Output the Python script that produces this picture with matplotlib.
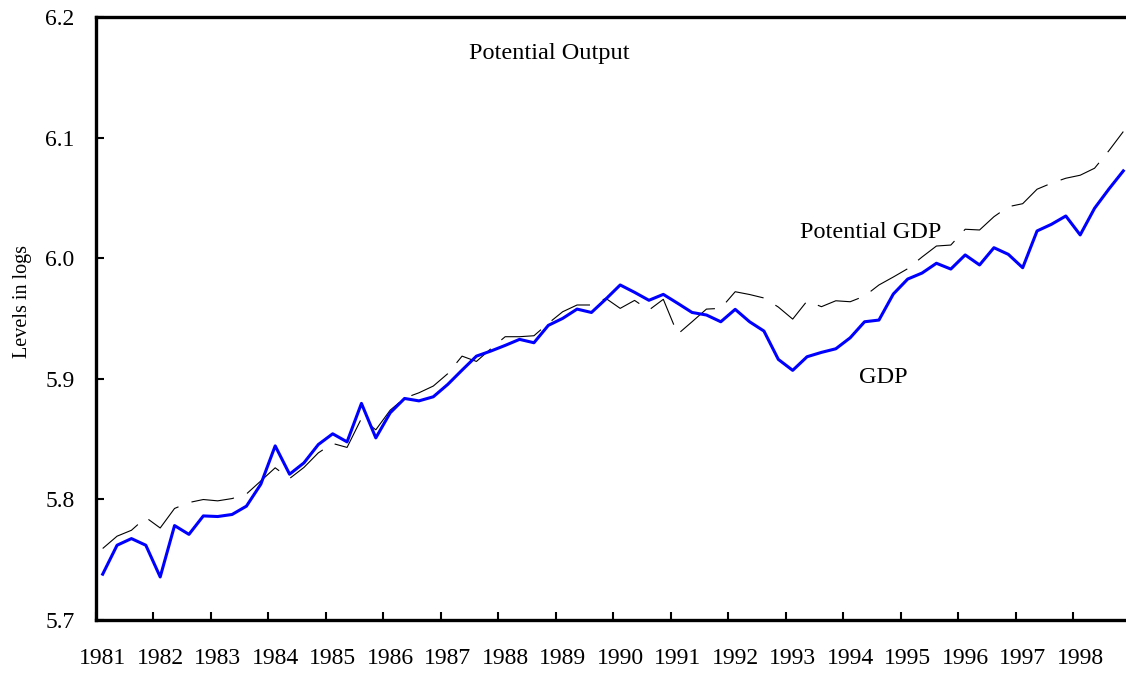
import numpy as np
import matplotlib
matplotlib.use('Agg')
import matplotlib.pyplot as plt

plt.rcParams['font.family'] = ['Liberation Serif', 'DejaVu Serif']
plt.rcParams['lines.scale_dashes'] = False

# quarterly data, 1981Q1 .. 1998Q4
years = list(range(1981, 1999))

gdp = [5.738, 5.762, 5.7675, 5.762, 5.7357, 5.7783, 5.771, 5.7863,
       5.7858, 5.7875, 5.7944, 5.8126, 5.8444, 5.8209, 5.8303, 5.8455,
       5.8544, 5.8477, 5.8796, 5.851, 5.8718, 5.8837, 5.8817, 5.8851,
       5.8953, 5.9072, 5.9188, 5.923, 5.9277, 5.9327, 5.9299, 5.9443,
       5.9501, 5.9578, 5.955, 5.9661, 5.9778, 5.9717, 5.9651, 5.970,
       5.9626, 5.955, 5.9529, 5.9473, 5.9576, 5.9473, 5.9396, 5.9161,
       5.907, 5.9183, 5.9219, 5.9249, 5.934, 5.9473, 5.9487, 5.9703,
       5.9827, 5.9877, 5.9958, 5.991, 6.0027, 5.9944, 6.0087, 6.0032,
       5.9921, 6.0226, 6.0281, 6.035, 6.0193, 6.0414, 6.0574, 6.0724]

potential = [5.7593, 5.7695, 5.7744, 5.785, 5.7763, 5.7925, 5.7974, 5.7999,
             5.7988, 5.8007, 5.8045, 5.8153, 5.8262, 5.8173, 5.8265, 5.8386,
             5.8464, 5.8431, 5.8671, 5.8577, 5.874, 5.884, 5.8884, 5.894,
             5.9042, 5.9188, 5.9144, 5.9249, 5.9349, 5.9349, 5.9357, 5.946,
             5.9556, 5.9612, 5.9612, 5.9667, 5.9584, 5.965, 5.957, 5.9659,
             5.937, 5.9473, 5.9578, 5.9584, 5.9722, 5.9699, 5.967, 5.9595,
             5.9495, 5.9645, 5.9598, 5.9647, 5.9639, 5.9686, 5.9778, 5.9844,
             5.9913, 6.001, 6.0101, 6.0109, 6.024, 6.0234, 6.0344, 6.0427,
             6.0452, 6.0572, 6.0622, 6.0663, 6.0688, 6.0746, 6.0892, 6.105]

yticks = [5.7, 5.8, 5.9, 6.0, 6.1, 6.2]

W, H = 1126, 673
fig = plt.figure(figsize=(W / 100, H / 100), dpi=100)
ax = fig.add_axes([95.5 / W, 53 / H, 1030.5 / W, 603 / H])

q = np.arange(len(gdp))
ax.plot(q, potential, color='black', lw=0.8, linestyle=(0, (31, 10)))
ax.plot(q, gdp, color='#0000ff', lw=2.2)

ax.set_xlim(-0.5, -0.5 + 1030.5 / 14.375)
ax.set_ylim(5.7, 6.2)

# ticks between years, labels on first quarter
ax.set_xticks([4 * k - 0.5 for k in range(len(years))])
ax.set_xticklabels([])
ax.set_xticks([4 * k for k in range(len(years))], minor=True)
ax.set_xticklabels([str(y) for y in years], minor=True)
ax.tick_params(axis='x', which='major', direction='in', length=6, width=1.5)
ax.tick_params(axis='x', which='minor', length=0, pad=20, labelsize=17)

ax.set_yticks(yticks)
ax.set_yticklabels(['%.1f' % v for v in yticks])
ax.tick_params(axis='y', direction='in', length=6, width=1.5, pad=15, labelsize=17)

for s in ['left', 'bottom', 'top']:
    ax.spines[s].set_linewidth(2.4)
ax.spines['right'].set_visible(False)

ax.text(31.1, 6.170, 'Potential Output', fontsize=17.5, ha='center', va='center')
ax.text(53.4, 6.021, 'Potential GDP', fontsize=17.5, ha='center', va='center')
ax.text(54.3, 5.9014, 'GDP', fontsize=17.5, ha='center', va='center')

fig.text(22 / W, 1 - 302 / H, 'Levels in logs', rotation=90, fontsize=14.5,
         ha='center', va='center')

fig.savefig('out.png', dpi=100)
